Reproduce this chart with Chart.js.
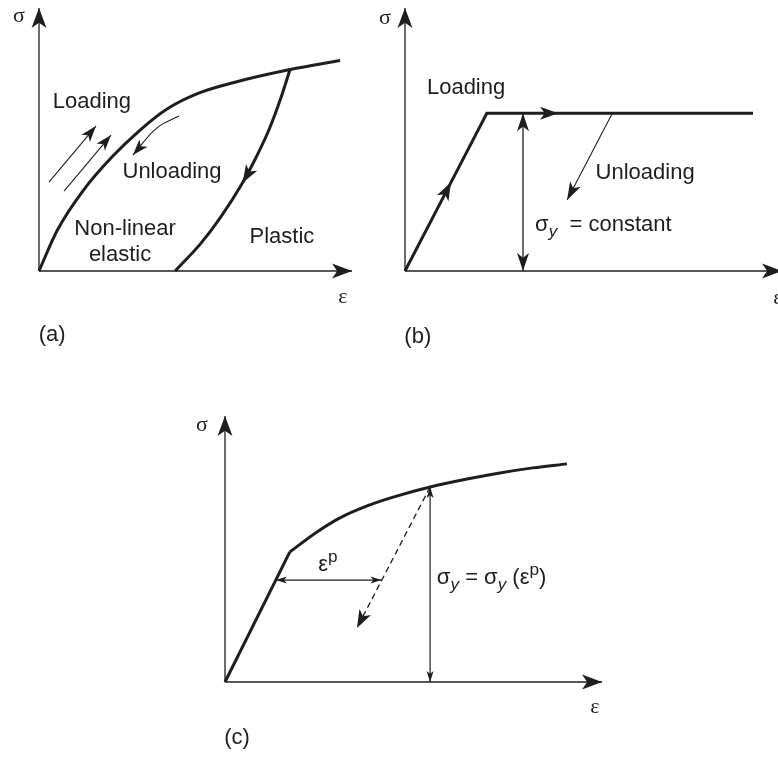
<!DOCTYPE html>
<html>
<head>
<meta charset="utf-8">
<title>Stress–strain behaviour</title>
<script src="https://cdn.jsdelivr.net/npm/chart.js@4.4.1/dist/chart.umd.min.js"></script>
<style>
  html, body { margin: 0; padding: 0; background: #fff; width: 778px; height: 758px; overflow: hidden; }
  canvas { position: absolute; }
</style>
</head>
<body>
<canvas id="panelA" width="370" height="360" style="left:0;top:0"></canvas>
<canvas id="panelB" width="430" height="360" style="left:370px;top:0"></canvas>
<canvas id="panelC" width="460" height="378" style="left:170px;top:380px"></canvas>
<script>
// ---- axes (strain ε horizontal, stress σ vertical, arbitrary units 0–10) ----
const axisX = [0, 10], axisXzero = [0, 0];
const axisYzero = [0, 0], axisY = [0, 10];

// ---- (a) non-linear elastic vs plastic ----
const aLoadEps   = [0, 0.58, 1.41, 2.36, 3.23, 4.09, 5.14, 6.2, 8.02, 9.62];
const aLoadSig   = [0, 1.54, 3.06, 4.37, 5.36, 6.16, 6.78, 7.16, 7.66, 8.0];
const aUnloadEps = [8.02, 7.71, 7.34, 6.89, 6.5, 5.81, 5.17, 4.35];
const aUnloadSig = [7.66, 6.52, 5.35, 4.21, 3.35, 2.06, 1.05, 0];
const aUpOneEps  = [0.32, 1.82], aUpOneSig = [3.38, 5.51];
const aUpTwoEps  = [0.8, 2.3],   aUpTwoSig = [3.04, 5.17];
const aDownEps   = [4.47, 3.77, 3.0], aDownSig = [5.89, 5.44, 4.41];
const aNotes = ['Loading', 'Unloading', 'Non-linear', 'elastic', 'Plastic'];

// ---- (b) elastic – perfectly plastic ----
const bLoadEps   = [0, 1.22, 2.17, 4.06, 9.23];
const bLoadSig   = [0, 3.37, 6, 6, 6];
const bYieldEps  = [3.13, 3.13], bYieldSig = [0, 6];
const bDownEps   = [5.5, 4.3],   bDownSig  = [6, 2.7];
const bNotes = ['Loading', 'Unloading', ' = constant'];

// ---- (c) strain hardening ----
const cElasticEps = [0, 1.72], cElasticSig = [0, 4.89];
const cHardEps = [1.72, 2.44, 3.05, 3.77, 4.46, 5.44, 6.42, 7.29, 8.17, 9.07];
const cHardSig = [4.89, 5.64, 6.17, 6.62, 6.95, 7.33, 7.63, 7.86, 8.05, 8.2];
const cYieldEps = [5.44, 5.44], cYieldSig = [0, 7.33];
const cDropEps  = [5.44, 3.5],  cDropSig  = [7.33, 2.03];
const cPlastEps = [1.35, 4.15], cPlastSig = [3.83, 3.83];

const panelTags = ['(a)', '(b)', '(c)'];

const ink = '#1e1e1e';
const SANS = '"Liberation Sans", Arial, Helvetica, sans-serif';
const SERIF = '"Liberation Serif", "Times New Roman", serif';

function arrowHead(ctx, x, y, ang, len, wid) {
  ctx.save();
  ctx.translate(x, y);
  ctx.rotate(ang);
  ctx.beginPath();
  ctx.moveTo(0, 0);
  ctx.lineTo(-len, -wid / 2);
  ctx.lineTo(-len * 0.74, 0);
  ctx.lineTo(-len, wid / 2);
  ctx.closePath();
  ctx.fillStyle = ink;
  ctx.fill();
  ctx.restore();
}

// arrowheads at the ends / inner points of datasets that ask for them
const arrowPlugin = {
  id: 'arrowHeads',
  afterDatasetsDraw(chart) {
    const ctx = chart.ctx;
    chart.data.datasets.forEach((ds, i) => {
      const a = ds.arrows;
      if (!a) return;
      const pts = chart.getDatasetMeta(i).data;
      const n = pts.length;
      const L = a.len || 18, W = a.wid || 13;
      const dir = (p, q) => Math.atan2(p.y - q.y, p.x - q.x);
      if (a.end) arrowHead(ctx, pts[n - 1].x, pts[n - 1].y, dir(pts[n - 1], pts[n - 2]), L, W);
      if (a.start) arrowHead(ctx, pts[0].x, pts[0].y, dir(pts[0], pts[1]), L, W);
      (a.at || []).forEach(k => {
        const prev = pts[k - 1], next = pts[k + 1] || pts[k];
        arrowHead(ctx, pts[k].x, pts[k].y, dir(next, prev), L, W);
      });
    });
  }
};

// text made of runs: [text, style] with style '' | 'sub' | 'sup'
function drawRich(ctx, parts, x, y, align, size, family) {
  const segs = parts.map(([t, s]) => {
    const small = s === 'sub' || s === 'sup';
    const fs = small ? size * 0.78 : size;
    const font = (s === 'sub' ? 'italic ' : '') + fs + 'px ' + family;
    ctx.font = font;
    return { t, font, w: ctx.measureText(t).width,
             dy: s === 'sub' ? size * 0.32 : s === 'sup' ? -size * 0.36 : 0 };
  });
  const total = segs.reduce((a, s) => a + s.w, 0);
  let cx = align === 'left' ? x : x - total / 2;
  ctx.textBaseline = 'middle';
  ctx.textAlign = 'left';
  segs.forEach(s => { ctx.font = s.font; ctx.fillText(s.t, cx, y + s.dy); cx += s.w; });
}

function notes(items) {
  return {
    id: 'notes',
    afterDraw(chart) {
      const ctx = chart.ctx, sx = chart.scales.x, sy = chart.scales.y;
      ctx.save();
      ctx.fillStyle = ink;
      items.forEach(it => drawRich(ctx, it.parts, sx.getPixelForValue(it.x), sy.getPixelForValue(it.y),
        it.align || 'center', it.size || 22, it.serif ? SERIF : SANS));
      ctx.restore();
    }
  };
}

function line(xs, ys, opts) {
  return Object.assign({
    data: xs.map((x, i) => ({ x, y: ys[i] })),
    showLine: true, pointRadius: 0, pointHoverRadius: 0,
    borderColor: ink, backgroundColor: ink, borderWidth: 3, tension: 0,
    clip: false, fill: false, borderCapStyle: 'butt', borderJoinStyle: 'miter'
  }, opts);
}

// smooth curve through the measured points
function curve(xs, ys, opts) {
  return line(xs, ys, Object.assign({ cubicInterpolationMode: 'monotone' }, opts));
}

function axes() {
  return [
    line(axisX, axisXzero, { borderWidth: 1.3, arrows: { end: true, len: 20, wid: 15 } }),
    line(axisYzero, axisY, { borderWidth: 1.3, arrows: { end: true, len: 20, wid: 15 } })
  ];
}

function panel(id, pad, datasets, items) {
  return new Chart(document.getElementById(id), {
    type: 'scatter',
    data: { datasets },
    options: {
      responsive: false, animation: false, devicePixelRatio: 1,
      layout: { padding: pad },
      scales: {
        x: { type: 'linear', min: 0, max: 10, display: false },
        y: { type: 'linear', min: 0, max: 10, display: false }
      },
      plugins: { legend: { display: false }, tooltip: { enabled: false } },
      events: []
    },
    plugins: [arrowPlugin, notes(items)]
  });
}

// (a)
panel('panelA', { left: 39, top: 8, right: 18, bottom: 89 }, [
  ...axes(),
  curve(aLoadEps, aLoadSig),
  curve(aUnloadEps, aUnloadSig, { arrows: { at: [4], len: 18, wid: 13 } }),
  line(aUpOneEps, aUpOneSig, { borderWidth: 1.1, arrows: { end: true, len: 16, wid: 11 } }),
  line(aUpTwoEps, aUpTwoSig, { borderWidth: 1.1, arrows: { end: true, len: 16, wid: 11 } }),
  line(aDownEps, aDownSig, { borderWidth: 1.1, tension: 0.4, arrows: { end: true, len: 16, wid: 11 } })
], [
  { parts: [['σ']], x: -0.64, y: 9.7, serif: true },
  { parts: [['ε']], x: 9.71, y: -0.99, serif: true },
  { parts: [[panelTags[0]]], x: 0.42, y: -2.43 },
  { parts: [[aNotes[0]]], x: 1.69, y: 6.43 },
  { parts: [[aNotes[1]]], x: 4.25, y: 3.76 },
  { parts: [[aNotes[2]]], x: 2.75, y: 1.6 },
  { parts: [[aNotes[3]]], x: 2.59, y: 0.61 },
  { parts: [[aNotes[4]]], x: 7.76, y: 1.29 }
]);

// (b)
panel('panelB', { left: 35, top: 8, right: 18, bottom: 89 }, [
  ...axes(),
  line(bLoadEps, bLoadSig, { arrows: { at: [1, 3], len: 18, wid: 13 } }),
  line(bYieldEps, bYieldSig, { borderWidth: 1.3, arrows: { start: true, end: true, len: 18, wid: 12 } }),
  line(bDownEps, bDownSig, { borderWidth: 1.1, arrows: { end: true, len: 18, wid: 12 } })
], [
  { parts: [['σ']], x: -0.53, y: 9.62, serif: true },
  { parts: [['ε']], x: 9.89, y: -1.03, serif: true },
  { parts: [[panelTags[1]]], x: 0.34, y: -2.51 },
  { parts: [[bNotes[0]]], x: 1.62, y: 6.96 },
  { parts: [[bNotes[1]]], x: 6.37, y: 3.72 },
  { parts: [['σ'], ['y', 'sub'], [' ' + bNotes[2]]], x: 3.45, y: 1.75, align: 'left' }
]);

// (c)
panel('panelC', { left: 55, top: 36, right: 28, bottom: 76 }, [
  ...axes(),
  line(cElasticEps, cElasticSig),
  curve(cHardEps, cHardSig),
  line(cYieldEps, cYieldSig, { borderWidth: 1.2, arrows: { start: true, end: true, len: 11, wid: 7 } }),
  line(cDropEps, cDropSig, { borderWidth: 1.3, borderDash: [6, 4], arrows: { end: true, len: 18, wid: 13 } }),
  line(cPlastEps, cPlastSig, { borderWidth: 1.2, arrows: { start: true, end: true, len: 11, wid: 7 } })
], [
  { parts: [['σ']], x: -0.61, y: 9.66, serif: true },
  { parts: [['ε']], x: 9.81, y: -0.94, serif: true },
  { parts: [[panelTags[2]]], x: 0.32, y: -2.11 },
  { parts: [['ε'], ['p', 'sup']], x: 2.73, y: 4.4 },
  { parts: [['σ'], ['y', 'sub'], [' = σ'], ['y', 'sub'], [' (ε'], ['p', 'sup'], [')']], x: 5.62, y: 3.91, align: 'left' }
]);
</script>
</body>
</html>
